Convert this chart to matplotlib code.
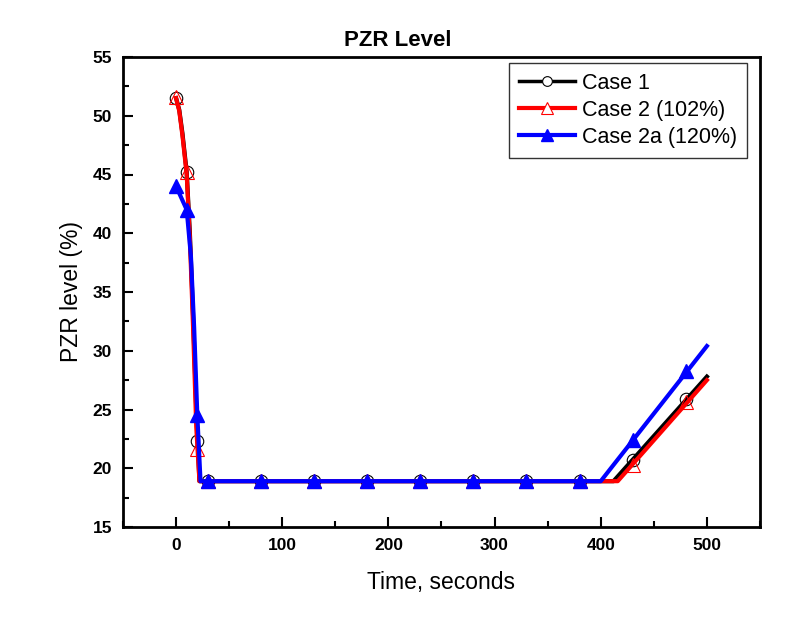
import matplotlib.pyplot as plt
from matplotlib.ticker import MultipleLocator

plt.rcParams['font.family'] = ['Liberation Sans', 'DejaVu Sans']

# line data (time in s, PZR level in %)
t1 = [0, 3, 6, 10, 13, 16, 19, 22, 412, 500]
y1 = [51.5, 50.5, 48.5, 45.2, 40.0, 33.0, 25.0, 18.9, 18.9, 27.8]
t2 = [0, 3, 6, 10, 13, 16, 19, 22, 416, 500]
y2 = [51.5, 50.4, 48.3, 45.0, 39.5, 32.0, 23.5, 18.9, 18.9, 27.5]
t3 = [0, 5, 10, 14, 17, 20, 23, 400, 500]
y3 = [44.0, 43.0, 42.0, 38.0, 32.0, 24.5, 18.9, 18.9, 30.4]

# marker data
mt = [0, 10, 20, 30, 80, 130, 180, 230, 280, 330, 380, 430, 480]
m1 = [51.5, 45.2, 22.3, 18.9, 18.9, 18.9, 18.9, 18.9, 18.9, 18.9, 18.9, 20.7, 25.9]
m2 = [51.6, 45.2, 21.6, 18.9, 18.9, 18.9, 18.9, 18.9, 18.9, 18.9, 18.9, 20.3, 25.6]
m3 = [44.0, 42.0, 24.5, 18.9, 18.9, 18.9, 18.9, 18.9, 18.9, 18.9, 18.9, 22.4, 28.3]

fig = plt.figure(figsize=(7.9, 6.25), dpi=100)
ax = fig.add_axes([0.1557, 0.1568, 0.8063, 0.752])

ax.plot(t1, y1, color='black', lw=3, zorder=2)
ax.plot(mt, m1, ls='none', marker='o', ms=9, mfc='none', mec='black', mew=0.8, zorder=2)
ax.plot(t2, y2, color='red', lw=3, zorder=3)
ax.plot(mt, m2, ls='none', marker='^', ms=10, mfc='none', mec='red', mew=0.8, zorder=3)
ax.plot(t3, y3, color='blue', lw=3, zorder=4)
ax.plot(mt, m3, ls='none', marker='^', ms=10, color='blue', zorder=4)

# legend proxies
h1, = ax.plot([], [], color='black', lw=2.5, marker='o', ms=7, mfc='white', mec='black', mew=0.8)
h2, = ax.plot([], [], color='red', lw=3, marker='^', ms=8, mfc='white', mec='red', mew=0.8)
h3, = ax.plot([], [], color='blue', lw=3, marker='^', ms=9)
leg = ax.legend([h1, h2, h3], ['Case 1', 'Case 2 (102%)', 'Case 2a (120%)'],
                loc='upper right', fontsize=15.5, frameon=True, fancybox=False,
                edgecolor='black', handlelength=2.6, handletextpad=0.35,
                borderpad=0.45, labelspacing=0.28, borderaxespad=0,
                bbox_to_anchor=(0.98, 0.987))
leg.get_frame().set_linewidth(1.0)

ax.set_xlim(-50, 550)
ax.set_ylim(15, 55)
ax.xaxis.set_major_locator(MultipleLocator(100))
ax.xaxis.set_minor_locator(MultipleLocator(50))
ax.yaxis.set_major_locator(MultipleLocator(5))
ax.yaxis.set_minor_locator(MultipleLocator(2.5))
ax.tick_params(which='both', direction='in', top=False, right=False, width=1.5)
ax.tick_params(which='major', length=7, labelsize=12.5, pad=8)
ax.tick_params(which='minor', length=4)
for lab in ax.get_xticklabels() + ax.get_yticklabels():
    lab.set_fontweight('bold')
for s in ax.spines.values():
    s.set_linewidth(2)

ax.set_title('PZR Level', fontsize=16, fontweight='bold', pad=8, x=0.432)
ax.set_xlabel('Time, seconds', fontsize=16.5, labelpad=13)
ax.set_ylabel('PZR level (%)', fontsize=16.5, labelpad=7)

fig.savefig('out.png', dpi=100)
